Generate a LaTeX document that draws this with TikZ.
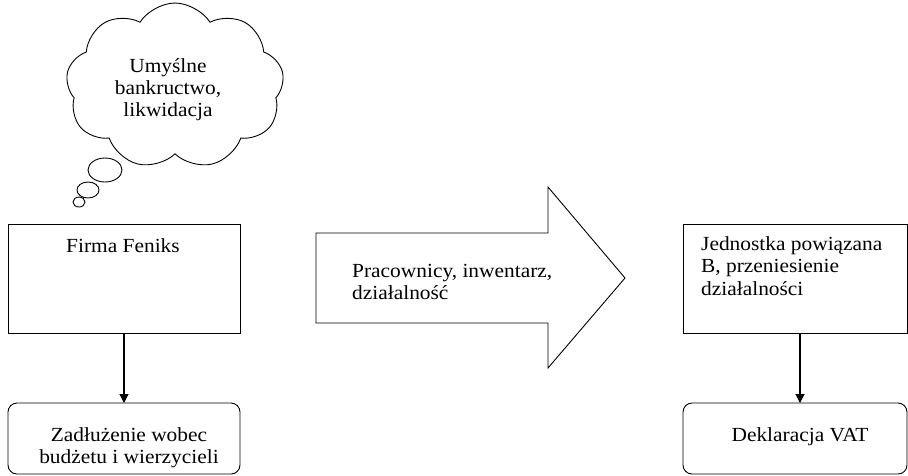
\documentclass[tikz,border=0pt]{standalone}
\usepackage{fontspec}
\setmainfont{Liberation Serif}[FakeStretch=1.07]
\usetikzlibrary{shapes.symbols,shapes.geometric,arrows.meta}
\begin{document}
\begin{tikzpicture}[x=1pt,y=-1pt,
  every node/.style={font=\fontsize{20}{22.5}\selectfont, inner sep=0pt},
  txt/.style={anchor=base},
  ltxt/.style={anchor=base west},
  box/.style={draw, line width=0.9pt},
  rbox/.style={draw, line width=0.9pt, rounded corners=9pt},
  conn/.style={line width=1.2pt, -{Triangle[length=9pt,width=9pt]}},
  bubble/.style={draw, ellipse, line width=0.9pt, inner sep=0pt}]
\useasboundingbox (0,0) rectangle (908,475);
% cloud
\node[draw, cloud, cloud puffs=9, cloud puff arc=115, aspect=1.3, line width=0.9pt,
      minimum width=218pt, minimum height=166pt] (cloud) at (175,86) {};
\node[txt] (c1) at (168,72) {Umyślne};
\node[txt] (c2) at (168,94) {bankructwo,};
\node[txt] (c3) at (168,116) {likwidacja};
\node[bubble, minimum width=34pt, minimum height=24pt] (b1) at (105,170) {};
\node[bubble, minimum width=22pt, minimum height=16pt] (b2) at (88,190) {};
\node[bubble, minimum width=12pt, minimum height=10pt] (b3) at (79,202) {};
% left column
\draw[box] (8,224) rectangle (240,333);
\node[txt] (firma) at (123,252.5) {Firma Feniks};
\coordinate (firmab) at (124,333);
\draw[rbox] (8,403) rectangle (240,474);
\coordinate (zadt) at (124,403);
\node[txt] (z1) at (129,441.5) {Zadłużenie wobec};
\node[txt] (z2) at (129,463) {budżetu i wierzycieli};
\draw[conn] (firmab) -- (zadt);
% big arrow
\draw[line width=0.9pt] (316,233) -- (548,233) -- (548,187) -- (625,278) -- (548,368) -- (548,323) -- (316,323) -- cycle;
\node[ltxt] (p1) at (352,277) {Pracownicy, inwentarz,};
\node[ltxt] (p2) at (352,299) {działalność};
% right column
\draw[box] (683,224) rectangle (907,333);
\node[ltxt] (j1) at (701,250) {Jednostka powiązana};
\node[ltxt] (j2) at (701,272.5) {B, przeniesienie};
\node[ltxt] (j3) at (701,295) {działalności};
\coordinate (jednb) at (800,333);
\draw[rbox] (683,403) rectangle (907,474);
\coordinate (dekt) at (800,403);
\node[txt] (dek) at (800,441) {Deklaracja VAT};
\draw[conn] (jednb) -- (dekt);
\end{tikzpicture}
\end{document}
